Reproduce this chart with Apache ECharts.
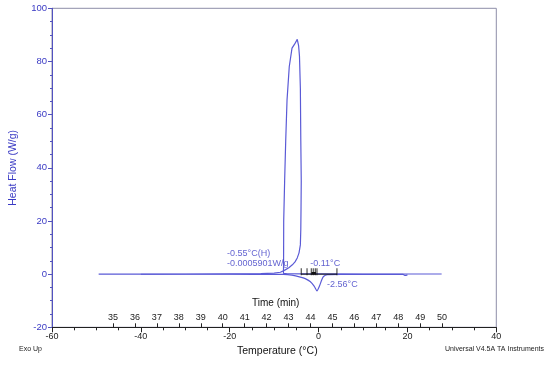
<!DOCTYPE html>
<html><head><meta charset="utf-8">
<script src="https://cdn.jsdelivr.net/npm/echarts@6/dist/echarts.min.js"></script>
<style>html,body{margin:0;padding:0;background:#fff}#c{width:550px;height:365px}</style>
</head><body><div id="c"></div>
<script>
// Cooling run (temperature °C, heat flow W/g), in time order
var coolTemp = [27.7, 20, 10, 0, -4, -7.0, -7.9, -7.87, -7.85, -7.64, -7.4, -7.1, -6.6, -5.98, -5.4, -4.8, -4.5, -4.3, -4.1, -4.0, -3.9, -3.95, -4.0, -4.1, -4.4, -4.8, -5.3, -5.9, -6.7, -7.5, -8.6, -10, -13, -20, -30, -40, -49.5];
var coolFlow = [0.05, 0.05, 0.05, 0.08, 0.1, 0.15, 0.3, 8, 20, 35, 50, 65.5, 78, 85, 86.5, 88.3, 86, 82, 70, 50, 35, 25, 17, 11, 8, 6.1, 4.6, 3.5, 2.4, 1.6, 0.7, 0.4, 0.2, 0.1, 0.05, 0.02, 0];
// Heating run
var heatTemp = [-40, -30, -20, -10, -7.9, -6, -4.1, -3.0, -1.9, -1.0, -0.36, 0.2, 0.7, 1.1, 2.0, 5, 10, 19, 19.5, 20];
var heatFlow = [-0.05, -0.05, -0.05, -0.08, -0.1, -0.4, -1.1, -1.7, -2.8, -4.5, -6.3, -4.5, -2.2, -0.9, -0.2, -0.1, -0.1, -0.1, -0.5, -0.3];
// Analysis markers (black)
var markerTemps = [-3.9, -2.6, -1.64, -1.2, -0.74, -0.36, 4.13];
var markerLine = [-3.9, 4.13];
var markerBlob = [-1.6, -0.6];
// Annotations
var annoText = ['-0.55°C(H)', '-0.0005901W/g', '-0.11°C', '-2.56°C'];
var annoTemp = [-20.6, -20.6, -1.87, 1.9];
var annoFlow = [7.6, 4.1, 4.1, -3.8];
// Axis ticks
var tempTicks = {min: -60, max: 40, interval: 20};
var flowTicks = {min: -20, max: 100, interval: 20};
var timeRange = [32.22, 52.47];
var timeLabels = [35, 36, 37, 38, 39, 40, 41, 42, 43, 44, 45, 46, 47, 48, 49, 50];

var BLUE_TXT = '#3a3ac4';
var CURVE = '#5a5ad6';
var FONT = 'Liberation Sans, Arial, sans-serif';

function zip(a, b) { return a.map(function (v, i) { return [v, b[i]]; }); }

var chart = echarts.init(document.getElementById('c'), null, {renderer: 'canvas'});
var option = {
  animation: false,
  backgroundColor: '#fff',
  textStyle: {fontFamily: FONT},
  grid: {left: 51.7, right: 53.7, top: 8.3, bottom: 37.7, show: true, borderColor: '#8e8ea8', borderWidth: 1},
  xAxis: [{
    type: 'value', min: tempTicks.min, max: tempTicks.max, interval: tempTicks.interval,
    position: 'bottom',
    axisLine: {show: true, onZero: false, lineStyle: {color: '#222', width: 1}},
    axisTick: {show: true, inside: false, length: 5, lineStyle: {color: '#222'}},
    minorTick: {show: true, splitNumber: 4, length: 3, lineStyle: {color: '#222'}},
    axisLabel: {color: '#222', fontSize: 9, margin: 5, fontFamily: FONT},
    splitLine: {show: false}
  }, {
    type: 'value', min: timeRange[0], max: timeRange[1],
    position: 'bottom',
    axisLine: {show: false, onZero: false},
    axisTick: {show: true, inside: true, length: 4, lineStyle: {color: '#222'}, customValues: timeLabels},
    axisLabel: {inside: true, color: '#222', fontSize: 9, margin: 5, fontFamily: FONT, customValues: timeLabels},
    splitLine: {show: false}
  }],
  yAxis: [{
    type: 'value', min: flowTicks.min, max: flowTicks.max, interval: flowTicks.interval,
    name: 'Heat Flow (W/g)', nameLocation: 'middle', nameGap: 33,
    nameTextStyle: {color: BLUE_TXT, fontSize: 10.5, fontFamily: FONT},
    axisLine: {show: true, onZero: false, lineStyle: {color: '#5252c0', width: 1}},
    axisTick: {show: true, length: 4, lineStyle: {color: '#5252c0'}},
    minorTick: {show: true, splitNumber: 4, length: 2, lineStyle: {color: '#5252c0'}},
    axisLabel: {color: BLUE_TXT, fontSize: 9.5, margin: 5, fontFamily: FONT},
    splitLine: {show: false}
  }],
  series: [{
    type: 'line', data: zip(coolTemp, coolFlow), symbol: 'none', smooth: false,
    lineStyle: {color: CURVE, width: 1.2}, z: 3
  }, {
    type: 'line', data: zip(heatTemp, heatFlow), symbol: 'none', smooth: 0.2,
    lineStyle: {color: CURVE, width: 1.2}, z: 3
  }, {
    type: 'line', data: markerLine.map(function (t) { return [t, 0]; }), symbol: 'none',
    lineStyle: {color: '#111', width: 1}, z: 4
  }, {
    type: 'line', data: markerBlob.map(function (t) { return [t, 0.3]; }), symbol: 'none',
    lineStyle: {color: '#111', width: 2.5}, z: 4
  }, {
    type: 'scatter', data: markerTemps.map(function (t) { return [t, 0.9]; }),
    symbol: 'rect', symbolSize: [1.1, 7], itemStyle: {color: '#111'}, z: 5
  }, {
    type: 'scatter', symbolSize: 0, z: 6,
    data: annoText.map(function (s, i) {
      return {value: [annoTemp[i], annoFlow[i]], label: {formatter: s}};
    }),
    label: {show: true, position: [0, 0], align: 'left', verticalAlign: 'middle',
      color: BLUE_TXT, fontSize: 9, fontFamily: FONT}
  }],
  graphic: [{
    type: 'text', left: 252, top: 298,
    style: {text: 'Time (min)', fill: '#111', font: '10px ' + FONT}
  }, {
    type: 'text', left: 237, top: 346,
    style: {text: 'Temperature (°C)', fill: '#111', font: '10.5px ' + FONT}
  }, {
    type: 'text', left: 19, top: 346,
    style: {text: 'Exo Up', fill: '#222', font: '7px ' + FONT}
  }, {
    type: 'text', right: 6, top: 346,
    style: {text: 'Universal V4.5A TA Instruments', fill: '#222', font: '7px ' + FONT}
  }]
};
chart.setOption(option);
</script>
</body></html>
